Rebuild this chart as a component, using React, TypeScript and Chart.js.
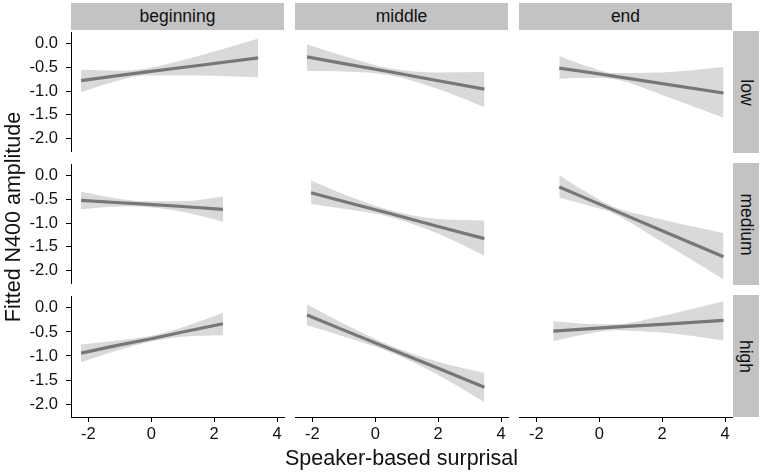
import React, { useEffect, useRef } from "react";
import { Chart, registerables } from "chart.js";

Chart.register(...registerables);

// ---------- data ----------
const positions = ["beginning", "middle", "end"];
const levels = ["low", "medium", "high"];
const xTickValues = [-2, 0, 2, 4];
const yTickValues = [0, -0.5, -1, -1.5, -2];
const xTitle = "Speaker-based surprisal";
const yTitle = "Fitted N400 amplitude";

// low
const lowBeginningX = [-2.23, -1.0, -0.2, 1.5, 3.4];
const lowBeginningFit = [-0.78, -0.67, -0.6, -0.46, -0.3];
const lowBeginningLower = [-1.02, -0.77, -0.67, -0.67, -0.71];
const lowBeginningUpper = [-0.55, -0.57, -0.53, -0.26, 0.11];

const lowMiddleX = [-2.17, -1.0, 0.5, 2.0, 3.47];
const lowMiddleFit = [-0.3, -0.44, -0.61, -0.79, -0.96];
const lowMiddleLower = [-0.59, -0.6, -0.68, -0.96, -1.33];
const lowMiddleUpper = [-0.04, -0.28, -0.54, -0.62, -0.61];

const lowEndX = [-1.27, -0.3, 0.4, 2.0, 3.95];
const lowEndFit = [-0.53, -0.62, -0.69, -0.85, -1.04];
const lowEndLower = [-0.75, -0.73, -0.75, -1.08, -1.55];
const lowEndUpper = [-0.28, -0.51, -0.63, -0.62, -0.51];

// medium
const mediumBeginningX = [-2.23, -1.0, -0.2, 1.0, 2.28];
const mediumBeginningFit = [-0.52, -0.57, -0.6, -0.65, -0.71];
const mediumBeginningLower = [-0.71, -0.65, -0.66, -0.76, -0.97];
const mediumBeginningUpper = [-0.34, -0.49, -0.54, -0.54, -0.44];

const mediumMiddleX = [-2.04, -1.0, 0.5, 2.0, 3.47];
const mediumMiddleFit = [-0.38, -0.56, -0.81, -1.07, -1.32];
const mediumMiddleLower = [-0.61, -0.71, -0.88, -1.22, -1.67];
const mediumMiddleUpper = [-0.13, -0.41, -0.74, -0.92, -0.95];

const mediumEndX = [-1.27, -0.4, 0.4, 2.0, 3.95];
const mediumEndFit = [-0.26, -0.5, -0.72, -1.16, -1.69];
const mediumEndLower = [-0.48, -0.63, -0.79, -1.39, -2.15];
const mediumEndUpper = [-0.02, -0.37, -0.65, -0.93, -1.21];

// high
const highBeginningX = [-2.23, -1.0, 0.0, 1.0, 2.28];
const highBeginningFit = [-0.94, -0.77, -0.64, -0.5, -0.33];
const highBeginningLower = [-1.13, -0.87, -0.7, -0.6, -0.57];
const highBeginningUpper = [-0.76, -0.67, -0.58, -0.4, -0.1];

const highMiddleX = [-2.17, -1.0, 0.5, 2.0, 3.47];
const highMiddleFit = [-0.18, -0.49, -0.88, -1.27, -1.66];
const highMiddleLower = [-0.39, -0.62, -0.95, -1.41, -1.97];
const highMiddleUpper = [0.04, -0.36, -0.81, -1.14, -1.37];

const highEndX = [-1.46, -0.5, 0.46, 2.0, 3.95];
const highEndFit = [-0.51, -0.47, -0.43, -0.37, -0.29];
const highEndLower = [-0.72, -0.58, -0.49, -0.54, -0.7];
const highEndUpper = [-0.31, -0.36, -0.37, -0.2, 0.1];

type PanelData = { x: number[]; fit: number[]; lower: number[]; upper: number[] };

const panelData: PanelData[][] = [
  [
    { x: lowBeginningX, fit: lowBeginningFit, lower: lowBeginningLower, upper: lowBeginningUpper },
    { x: lowMiddleX, fit: lowMiddleFit, lower: lowMiddleLower, upper: lowMiddleUpper },
    { x: lowEndX, fit: lowEndFit, lower: lowEndLower, upper: lowEndUpper },
  ],
  [
    { x: mediumBeginningX, fit: mediumBeginningFit, lower: mediumBeginningLower, upper: mediumBeginningUpper },
    { x: mediumMiddleX, fit: mediumMiddleFit, lower: mediumMiddleLower, upper: mediumMiddleUpper },
    { x: mediumEndX, fit: mediumEndFit, lower: mediumEndLower, upper: mediumEndUpper },
  ],
  [
    { x: highBeginningX, fit: highBeginningFit, lower: highBeginningLower, upper: highBeginningUpper },
    { x: highMiddleX, fit: highMiddleFit, lower: highMiddleLower, upper: highMiddleUpper },
    { x: highEndX, fit: highEndFit, lower: highEndLower, upper: highEndUpper },
  ],
];

// ---------- layout / style ----------
const X_MIN = -2.55;
const X_MAX = 4.22;
const Y_MIN = -2.27;
const Y_MAX = 0.23;

const COL_LEFT = [71, 295, 519];
const ROW_TOP = [31, 163, 295];
const PANEL_W = 213;
const PANEL_H = 122;
const Y_AXIS_W = 71;
const X_AXIS_H = 30;
const MARGIN = 16;

const FONT = '"Liberation Sans", Arial, Helvetica, sans-serif';
const STRIP_BG = "#c3c3c3";
const RIBBON = "#d9d9d9";
const LINE = "#777777";

function Panel({ r, c }: { r: number; c: number }) {
  const ref = useRef<HTMLCanvasElement | null>(null);
  const showY = c === 0;
  const showX = r === 2;
  const left = COL_LEFT[c] - MARGIN - (showY ? Y_AXIS_W : 0);
  const top = ROW_TOP[r] - MARGIN;
  const width = PANEL_W + 2 * MARGIN + (showY ? Y_AXIS_W : 0);
  const height = PANEL_H + 2 * MARGIN + (showX ? X_AXIS_H : 0);

  useEffect(() => {
    if (!ref.current) return;
    const d = panelData[r][c];
    const pts = (ys: number[]) => d.x.map((x, i) => ({ x, y: ys[i] }));
    const chart = new Chart(ref.current, {
      type: "line",
      data: {
        datasets: [
          {
            data: pts(d.fit),
            fill: false,
            borderColor: LINE,
            borderWidth: 3.2,
            pointRadius: 0,
            borderCapStyle: "butt",
            order: 0,
          },
          {
            data: pts(d.upper),
            fill: "+1",
            backgroundColor: RIBBON,
            borderWidth: 0,
            pointRadius: 0,
            tension: 0.4,
            cubicInterpolationMode: "monotone",
            order: 1,
          },
          {
            data: pts(d.lower),
            fill: false,
            borderWidth: 0,
            pointRadius: 0,
            tension: 0.4,
            cubicInterpolationMode: "monotone",
            order: 2,
          },
        ],
      } as any,
      options: {
        animation: false,
        responsive: true,
        maintainAspectRatio: false,
        events: [],
        layout: { padding: MARGIN },
        plugins: { legend: { display: false }, tooltip: { enabled: false } },
        scales: {
          x: {
            type: "linear",
            min: X_MIN,
            max: X_MAX,
            display: showX,
            afterBuildTicks: (s: any) => {
              s.ticks = xTickValues.map((v) => ({ value: v }));
            },
            afterFit: (s: any) => {
              if (showX) s.height = X_AXIS_H;
            },
            grid: {
              display: true,
              drawOnChartArea: false,
              drawTicks: true,
              tickLength: 5,
              tickColor: "#000",
              tickWidth: 1,
            },
            border: { display: true, color: "#000", width: 1 },
            ticks: {
              color: "#111",
              padding: 3,
              maxRotation: 0,
              autoSkip: false,
              font: { family: FONT, size: 16.5 },
              callback: (v: any) => String(v),
            },
          },
          y: {
            type: "linear",
            min: Y_MIN,
            max: Y_MAX,
            display: showY,
            afterBuildTicks: (s: any) => {
              s.ticks = yTickValues.map((v) => ({ value: v }));
            },
            afterFit: (s: any) => {
              if (showY) s.width = Y_AXIS_W;
            },
            grid: {
              display: true,
              drawOnChartArea: false,
              drawTicks: true,
              tickLength: 5,
              tickColor: "#000",
              tickWidth: 1,
            },
            border: { display: true, color: "#000", width: 1 },
            ticks: {
              color: "#111",
              padding: 8,
              autoSkip: false,
              font: { family: FONT, size: 16.5 },
              callback: (v: any) => Number(v).toFixed(1),
            },
          },
        },
      } as any,
    });
    return () => chart.destroy();
  }, [r, c]);

  return (
    <div style={{ position: "absolute", left, top, width, height }}>
      <canvas ref={ref} />
    </div>
  );
}

export default function App() {
  const cells: React.ReactNode[] = [];
  for (let r = 0; r < 3; r++) {
    for (let c = 0; c < 3; c++) {
      cells.push(<Panel key={`${r}-${c}`} r={r} c={c} />);
    }
  }
  return (
    <div
      style={{
        position: "fixed",
        left: 0,
        top: 0,
        width: 765,
        height: 473,
        background: "#fff",
        overflow: "hidden",
        fontFamily: FONT,
        color: "#111",
      }}
    >
      {positions.map((p, c) => (
        <div
          key={p}
          style={{
            position: "absolute",
            left: COL_LEFT[c],
            top: 3,
            width: PANEL_W,
            height: 27,
            background: STRIP_BG,
            display: "flex",
            alignItems: "center",
            justifyContent: "center",
            fontSize: 17.5,
          }}
        >
          {p}
        </div>
      ))}
      {levels.map((l, r) => (
        <div
          key={l}
          style={{
            position: "absolute",
            left: 733,
            top: ROW_TOP[r],
            width: 26,
            height: PANEL_H,
            background: STRIP_BG,
            display: "flex",
            alignItems: "center",
            justifyContent: "center",
          }}
        >
          <div style={{ transform: "rotate(90deg)", fontSize: 17.5, whiteSpace: "nowrap" }}>{l}</div>
        </div>
      ))}
      {cells}
      <div
        style={{
          position: "absolute",
          left: COL_LEFT[0],
          top: 446,
          width: COL_LEFT[2] + PANEL_W - COL_LEFT[0],
          textAlign: "center",
          fontSize: 21.5,
          lineHeight: "24px",
          whiteSpace: "nowrap",
        }}
      >
        {xTitle}
      </div>
      <div
        style={{
          position: "absolute",
          left: 13 - 150,
          top: 217 - 12,
          width: 300,
          height: 24,
          lineHeight: "24px",
          textAlign: "center",
          fontSize: 21.5,
          transform: "rotate(-90deg)",
          whiteSpace: "nowrap",
        }}
      >
        {yTitle}
      </div>
    </div>
  );
}
